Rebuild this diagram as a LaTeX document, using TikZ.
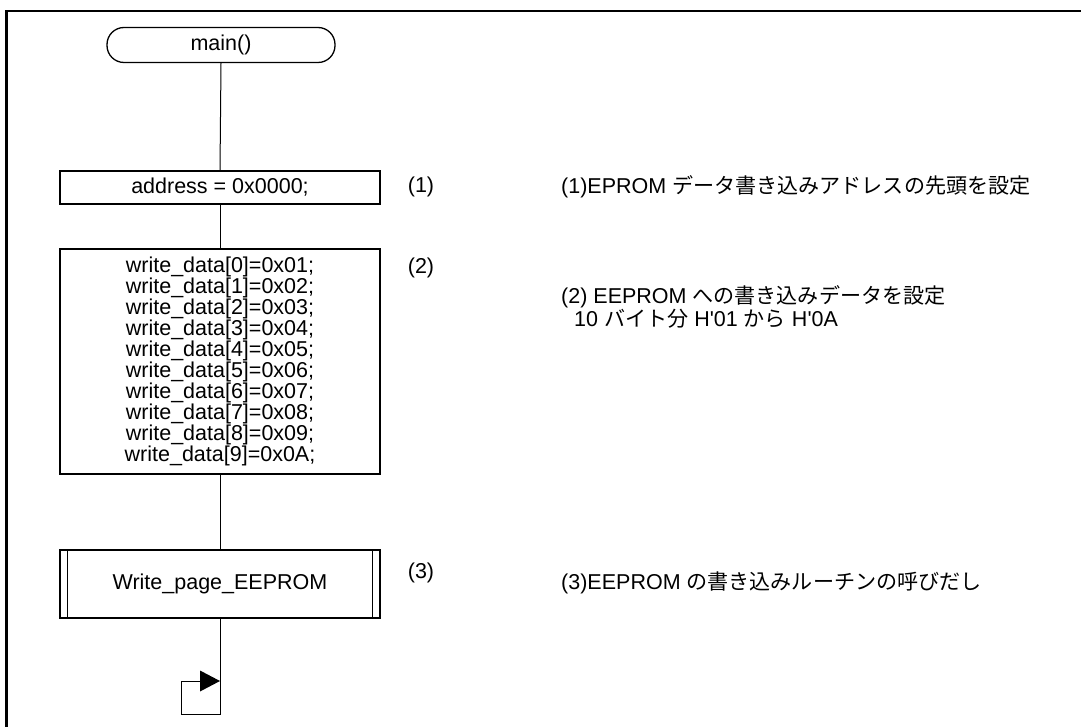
\documentclass[tikz,border=0pt]{standalone}
\usepackage{fontspec}
\setmainfont{Liberation Sans}
\newfontfamily\arial{Liberation Sans}
\newfontfamily\cjk[Scale=0.98]{Noto Sans CJK JP}
\begin{document}
\begin{tikzpicture}[x=1pt,y=1pt,
  every node/.style={font=\fontsize{21.5}{20}\selectfont\arial, inner sep=0pt},
  box/.style={draw, line width=1.3pt, minimum width=320pt, align=center},
  flow/.style={line width=1pt},
  note/.style={anchor=west, align=left}]
\useasboundingbox (0,0) rectangle (1081,-727);
% frame
\draw[line width=2.5pt] (6.5,-727) -- (6.5,-11) -- (1081,-11);
% nodes
\node[draw, line width=1.3pt, rounded corners=17pt, minimum width=228pt, minimum height=35pt] (main) at (221,-45) {main()};
\node[box, minimum height=33pt] (addr) at (220,-187.5) {address = 0x0000;};
\node[box, minimum height=225pt] (data) at (220,-361.5) {write\_data[0]=0x01;\\write\_data[1]=0x02;\\write\_data[2]=0x03;\\write\_data[3]=0x04;\\write\_data[4]=0x05;\\write\_data[5]=0x06;\\write\_data[6]=0x07;\\write\_data[7]=0x08;\\write\_data[8]=0x09;\\write\_data[9]=0x0A;};
\node[box, minimum height=68pt] (wp) at (220,-584) {Write\_page\_EEPROM};
\draw[line width=1.3pt] ([xshift=8pt]wp.north west) -- ([xshift=8pt]wp.south west);
\draw[line width=1.3pt] ([xshift=-8pt]wp.north east) -- ([xshift=-8pt]wp.south east);
% connectors
\draw[flow] (main.south) -- (addr.north);
\draw[flow] (addr.south) -- (data.north);
\draw[flow] (data.south) -- (wp.north);
\coordinate (c1) at (220,-714);
\coordinate (c2) at (181,-714);
\coordinate (c3) at (181,-681);
\coordinate (tip) at (220,-681);
\draw[flow] (wp.south) -- (c1) -- (c2) -- (c3) -- ([xshift=-20pt]tip);
\fill (tip) -- ++(-20,10.5) -- ++(0,-21) -- cycle;
% step labels
\node (l1) at (421,-187) {(1)};
\node (l2) at (421,-268) {(2)};
\node (l3) at (421,-573) {(3)};
% notes
\node[note] (n1) at (561,-187) {(1)EPROM {\cjk データ書き込みアドレスの先頭を設定}};
\node[note] (n2) at (561,-297) {(2) EEPROM {\cjk への書き込みデータを設定}};
\node[note] (n2b) at (574,-319) {10 {\cjk バイト分} H'01 {\cjk から} H'0A};
\node[note] (n3) at (561,-583) {(3)EEPROM {\cjk の書き込みルーチンの呼びだし}};
\end{tikzpicture}
\end{document}
